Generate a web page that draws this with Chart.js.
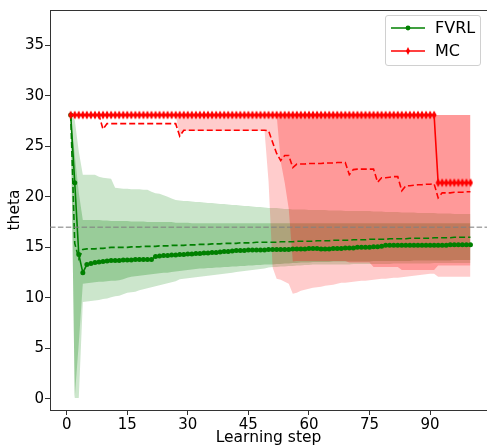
<!DOCTYPE html>
<html>
<head>
<meta charset="utf-8">
<script src="https://cdn.jsdelivr.net/npm/chart.js@4.4.1/dist/chart.umd.min.js"></script>
<style>
    html, body { margin: 0; padding: 0; background: #fff; }
    #wrap { position: relative; width: 487px; height: 446px; overflow: hidden; }
    #legend {
        position: absolute; left: 385px; top: 15px; width: 94px; height: 49px;
        border: 1px solid #d0d0d0; border-radius: 3px; background: rgba(255,255,255,0.8);
        font-family: 'DejaVu Sans'; font-size: 16px; color: #000;
    }
    .row { position: absolute; left: 0; width: 94px; height: 20px; }
    .row svg { position: absolute; left: 5px; top: 3px; }
    .row span { position: absolute; left: 49px; top: 0; line-height: 20px; white-space: nowrap; }
</style>
</head>
<body>
<div id="wrap">
    <canvas id="c" width="487" height="446"></canvas>
    <div id="legend">
        <div class="row" style="top:2px">
            <svg width="34" height="14"><line x1="0" y1="7" x2="34" y2="7" stroke="green" stroke-width="1.6"/><circle cx="17" cy="7" r="2.4" fill="green"/></svg>
            <span>FVRL</span>
        </div>
        <div class="row" style="top:25px">
            <svg width="34" height="14"><line x1="0" y1="7" x2="34" y2="7" stroke="red" stroke-width="1.6"/><polygon points="17,3 19,7 17,11 15,7" fill="red"/></svg>
            <span>MC</span>
        </div>
    </div>
</div>
<script>
// ---- data ----
const steps = [1,2,3,4,5,6,7,8,9,10,11,12,13,14,15,16,17,18,19,20,21,22,23,24,25,26,27,28,29,30,
    31,32,33,34,35,36,37,38,39,40,41,42,43,44,45,46,47,48,49,50,51,52,53,54,55,56,57,58,59,60,
    61,62,63,64,65,66,67,68,69,70,71,72,73,74,75,76,77,78,79,80,81,82,83,84,85,86,87,88,89,90,
    91,92,93,94,95,96,97,98,99,100];

const refTheta = 17;

// FVRL: median (solid), mean (dashed), inner band, outer band
const fvrlMedian = [28.1,21.4,14.3,12.5,13.3,13.4,13.5,13.55,13.6,13.65,
    13.7,13.7,13.7,13.75,13.75,13.75,13.8,13.8,13.8,13.8,
    13.8,14.1,14.15,14.2,14.2,14.25,14.25,14.3,14.3,14.35,
    14.35,14.4,14.4,14.45,14.45,14.5,14.5,14.55,14.6,14.6,
    14.65,14.7,14.7,14.7,14.75,14.75,14.75,14.75,14.75,14.8,
    14.8,14.8,14.8,14.8,14.8,14.85,14.85,14.85,14.85,14.9,
    14.9,14.9,14.85,14.85,14.85,14.9,14.9,14.9,14.95,14.95,
    14.95,15.0,15.0,15.0,15.0,15.05,15.05,15.1,15.2,15.2,
    15.2,15.2,15.2,15.2,15.2,15.2,15.2,15.2,15.2,15.2,
    15.2,15.2,15.2,15.2,15.25,15.25,15.25,15.25,15.25,15.25];

const fvrlMean = [28.1,15.4,13.9,14.8,14.85,14.85,14.85,14.9,14.9,14.95,
    15.0,15.0,15.0,15.0,15.0,15.05,15.05,15.05,15.1,15.1,
    15.1,15.1,15.15,15.15,15.15,15.2,15.2,15.2,15.2,15.25,
    15.25,15.25,15.3,15.3,15.3,15.35,15.35,15.35,15.4,15.4,
    15.4,15.4,15.45,15.45,15.45,15.45,15.5,15.5,15.5,15.5,
    15.5,15.5,15.55,15.55,15.55,15.55,15.6,15.6,15.6,15.6,
    15.6,15.65,15.65,15.65,15.65,15.7,15.7,15.7,15.7,15.7,
    15.75,15.75,15.75,15.75,15.8,15.8,15.8,15.8,15.8,15.85,
    15.85,15.85,15.85,15.85,15.9,15.9,15.9,15.9,15.9,15.9,
    15.95,15.95,15.95,15.95,15.95,16.0,16.0,16.0,16.0,16.0];

const fvrlHigh = [28.1,27.6,24.5,22.2,22.2,22.2,22.2,22.0,21.9,21.85,
    21.8,20.9,20.85,20.8,20.8,20.75,20.75,20.75,20.7,20.7,
    20.5,20.35,20.3,20.15,20.0,19.85,19.7,19.65,19.6,19.6,
    19.55,19.5,19.5,19.45,19.4,19.4,19.35,19.3,19.3,19.25,
    19.2,19.2,19.15,19.1,19.1,19.05,19.0,19.0,18.95,18.9,
    18.9,18.9,18.85,18.8,18.8,18.75,18.75,18.75,18.75,18.7,
    18.7,18.7,18.7,18.7,18.65,18.65,18.65,18.65,18.6,18.6,
    18.6,18.6,18.6,18.6,18.6,18.55,18.55,18.55,18.5,18.5,
    18.5,18.5,18.45,18.45,18.45,18.45,18.4,18.4,18.4,18.4,
    18.4,18.35,18.35,18.35,18.35,18.3,18.3,18.3,18.3,18.3];

const fvrlUpper = [28.1,24.2,20.4,17.7,17.7,17.7,17.7,17.7,17.65,17.65,
    17.6,17.6,17.6,17.6,17.6,17.55,17.55,17.55,17.55,17.5,
    17.5,17.5,17.5,17.5,17.5,17.5,17.45,17.45,17.45,17.45,
    17.4,17.4,17.4,17.4,17.4,17.4,17.4,17.4,17.4,17.4,
    17.4,17.4,17.4,17.4,17.4,17.4,17.4,17.4,17.4,17.4,
    17.4,17.4,17.4,17.4,17.4,17.4,17.4,17.4,17.4,17.4,
    17.4,17.4,17.4,17.4,17.4,17.4,17.4,17.4,17.4,17.4,
    17.4,17.4,17.4,17.4,17.4,17.4,17.4,17.4,17.4,17.4,
    17.4,17.4,17.4,17.4,17.4,17.4,17.4,17.4,17.4,17.4,
    17.4,17.4,17.4,17.4,17.4,17.4,17.4,17.4,17.4,17.4];

const fvrlLower = [28.1,0.1,5.5,11.4,11.45,11.5,11.55,11.6,11.6,11.65,
    11.7,11.7,11.75,11.85,12.0,12.1,12.15,12.2,12.25,12.3,
    12.35,12.4,12.45,12.5,12.5,12.55,12.6,12.65,12.7,12.75,
    12.8,12.85,12.9,12.9,12.95,12.95,13.0,13.0,13.05,13.05,
    13.1,13.1,13.15,13.15,13.2,13.2,13.25,13.25,13.3,13.3,
    13.3,13.35,13.35,13.4,13.4,13.45,13.45,13.5,13.5,13.5,
    13.55,13.55,13.55,13.55,13.55,13.6,13.6,13.6,13.6,13.6,
    13.6,13.6,13.6,13.6,13.6,13.65,13.65,13.65,13.65,13.65,
    13.65,13.65,13.65,13.65,13.65,13.7,13.7,13.7,13.7,13.7,
    13.7,13.7,13.7,13.7,13.7,13.75,13.75,13.75,13.75,13.75];

const fvrlLow = [28.1,0.1,0.1,9.6,9.65,9.7,9.75,9.8,9.9,9.95,
    10.05,10.15,10.2,10.35,10.5,10.55,10.6,10.75,10.85,10.95,
    11.05,11.15,11.25,11.35,11.45,11.55,11.65,11.85,11.9,11.95,
    12.0,12.05,12.1,12.15,12.2,12.25,12.3,12.35,12.4,12.45,
    12.5,12.55,12.6,12.65,12.7,12.75,12.8,12.85,12.9,13.0,
    13.05,13.05,13.1,13.1,13.15,13.15,13.2,13.2,13.25,13.25,
    13.3,13.3,13.3,13.3,13.3,13.3,13.3,13.3,13.3,13.3,
    13.35,13.35,13.35,13.35,13.35,13.35,13.35,13.35,13.35,13.35,
    13.4,13.4,13.4,13.4,13.4,13.4,13.4,13.4,13.4,13.4,
    13.45,13.45,13.45,13.45,13.45,13.45,13.45,13.45,13.45,13.45];

// MC: median (solid), mean (dashed), bands share the same top
const mcMedian = [28.1,28.1,28.1,28.1,28.1,28.1,28.1,28.1,28.1,28.1,
    28.1,28.1,28.1,28.1,28.1,28.1,28.1,28.1,28.1,28.1,
    28.1,28.1,28.1,28.1,28.1,28.1,28.1,28.1,28.1,28.1,
    28.1,28.1,28.1,28.1,28.1,28.1,28.1,28.1,28.1,28.1,
    28.1,28.1,28.1,28.1,28.1,28.1,28.1,28.1,28.1,28.1,
    28.1,28.1,28.1,28.1,28.1,28.1,28.1,28.1,28.1,28.1,
    28.1,28.1,28.1,28.1,28.1,28.1,28.1,28.1,28.1,28.1,
    28.1,28.1,28.1,28.1,28.1,28.1,28.1,28.1,28.1,28.1,
    28.1,28.1,28.1,28.1,28.1,28.1,28.1,28.1,28.1,28.1,
    28.1,21.4,21.4,21.4,21.4,21.4,21.4,21.4,21.4,21.4];

const mcMean = [28.1,28.1,28.1,28.1,28.1,28.1,28.1,28.1,26.7,27.25,
    27.25,27.25,27.25,27.25,27.25,27.25,27.25,27.25,27.25,27.25,
    27.25,27.25,27.25,27.25,27.25,27.25,27.25,26.0,26.6,26.6,
    26.6,26.6,26.6,26.6,26.6,26.6,26.6,26.6,26.6,26.6,
    26.6,26.6,26.6,26.6,26.6,26.6,26.6,26.6,26.6,26.55,
    25.4,24.3,23.6,24.1,24.1,22.9,23.25,23.25,23.25,23.3,
    23.3,23.3,23.3,23.35,23.35,23.35,23.4,23.4,23.4,22.2,
    22.7,22.75,22.75,22.75,22.75,22.75,21.45,21.9,21.9,21.95,
    22.0,22.0,20.6,21.1,21.1,21.15,21.2,21.2,21.25,21.25,
    21.3,19.9,20.4,20.4,20.4,20.45,20.45,20.45,20.5,20.5];

const mcTop = [28.1,28.1,28.1,28.1,28.1,28.1,28.1,28.1,28.1,28.1,
    28.1,28.1,28.1,28.1,28.1,28.1,28.1,28.1,28.1,28.1,
    28.1,28.1,28.1,28.1,28.1,28.1,28.1,28.1,28.1,28.1,
    28.1,28.1,28.1,28.1,28.1,28.1,28.1,28.1,28.1,28.1,
    28.1,28.1,28.1,28.1,28.1,28.1,28.1,28.1,28.1,28.1,
    28.1,28.1,28.1,28.1,28.1,28.1,28.1,28.1,28.1,28.1,
    28.1,28.1,28.1,28.1,28.1,28.1,28.1,28.1,28.1,28.1,
    28.1,28.1,28.1,28.1,28.1,28.1,28.1,28.1,28.1,28.1,
    28.1,28.1,28.1,28.1,28.1,28.1,28.1,28.1,28.1,28.1,
    28.1,28.1,28.1,28.1,28.1,28.1,28.1,28.1,28.1,28.1];

const mcLower = [28.1,28.1,28.1,28.1,28.1,28.1,28.1,28.1,28.1,28.1,
    28.1,28.1,28.1,28.1,28.1,28.1,28.1,28.1,28.1,28.1,
    28.1,28.1,28.1,28.1,28.1,28.1,28.1,28.1,28.1,28.1,
    28.1,28.1,28.1,28.1,28.1,28.1,28.1,28.1,28.1,28.1,
    28.1,28.1,28.1,28.1,28.1,28.1,28.1,28.1,28.1,28.1,
    28.1,28.1,23.5,21.4,18.8,13.6,13.65,13.65,13.65,13.65,
    13.65,13.65,13.65,13.65,13.65,13.65,13.65,13.65,13.65,13.5,
    13.5,13.5,13.5,13.5,13.5,13.05,13.05,13.05,13.05,13.05,
    13.05,13.05,12.75,12.75,12.75,12.75,12.75,12.75,12.75,12.75,
    12.75,13.2,13.2,13.2,13.2,13.2,13.2,13.2,13.2,13.2];

const mcLow = [28.1,28.1,28.1,28.1,28.1,28.1,28.1,28.1,28.1,28.1,
    28.1,28.1,28.1,28.1,28.1,28.1,28.1,28.1,28.1,28.1,
    28.1,28.1,28.1,28.1,28.1,28.1,28.1,26.0,26.55,26.55,
    26.55,26.55,26.55,26.55,26.55,26.55,26.55,26.55,26.55,26.55,
    26.55,26.55,26.55,26.55,26.55,26.55,26.55,26.55,26.55,21.5,
    13.0,11.9,11.8,11.6,11.4,10.4,10.5,10.7,10.8,10.9,
    11.0,11.05,11.1,11.2,11.25,11.3,11.4,11.5,11.5,11.55,
    11.6,11.65,11.7,11.7,11.75,11.8,11.85,11.9,11.9,11.95,
    12.0,12.0,12.05,12.1,12.15,12.2,12.25,12.3,12.35,12.4,
    12.4,12.1,12.1,12.1,12.1,12.1,12.1,12.1,12.1,12.1];

// ---- chart ----
const pts = arr => steps.map((s, i) => ({ x: s, y: arr[i] }));

// thin diamond marker for MC
const diamond = document.createElement('canvas');
diamond.width = 6; diamond.height = 10;
(() => {
    const g = diamond.getContext('2d');
    g.fillStyle = 'red';
    g.beginPath(); g.moveTo(3, 0.5); g.lineTo(5.5, 5); g.lineTo(3, 9.5); g.lineTo(0.5, 5); g.closePath(); g.fill();
})();

const band = (data, fillTo, color) => ({
    data: pts(data), borderColor: 'transparent', borderWidth: 0, pointRadius: 0,
    fill: fillTo === null ? false : { target: fillTo }, backgroundColor: color, tension: 0
});

const refLine = {
    id: 'refLine',
    afterDatasetsDraw(chart) {
        const { ctx, chartArea: a, scales } = chart;
        const y = scales.y.getPixelForValue(refTheta);
        ctx.save();
        ctx.beginPath();
        ctx.rect(a.left, a.top, a.right - a.left, a.bottom - a.top);
        ctx.clip();
        ctx.strokeStyle = 'rgba(128,128,128,0.7)';
        ctx.lineWidth = 1.5;
        ctx.setLineDash([5.5, 2.4]);
        ctx.beginPath(); ctx.moveTo(a.left, y); ctx.lineTo(a.right, y); ctx.stroke();
        ctx.restore();
    },
    afterDraw(chart) {
        const { ctx, chartArea: a } = chart;
        ctx.save();
        ctx.strokeStyle = '#333'; ctx.lineWidth = 1;
        ctx.beginPath(); ctx.moveTo(a.left, a.top + 0.5); ctx.lineTo(a.right, a.top + 0.5); ctx.stroke();
        ctx.restore();
    }
};

const tickFont = { family: 'DejaVu Sans', size: 15 };

new Chart(document.getElementById('c'), {
    type: 'line',
    data: {
        datasets: [
            { label: 'MC', data: pts(mcMedian), borderColor: 'red', borderWidth: 1.6, pointStyle: diamond, pointRadius: 3, tension: 0, fill: false },
            { label: 'MC mean', data: pts(mcMean), borderColor: 'red', borderWidth: 1.6, borderDash: [6, 3], pointRadius: 0, tension: 0, fill: false },
            { label: 'FVRL', data: pts(fvrlMedian), borderColor: 'green', backgroundColor: 'green', borderWidth: 1.6, pointRadius: 2.5, pointBorderWidth: 0, tension: 0, fill: false },
            { label: 'FVRL mean', data: pts(fvrlMean), borderColor: 'green', borderWidth: 1.6, borderDash: [6, 3], pointRadius: 0, tension: 0, fill: false },
            band(mcTop, 5, 'rgba(255,0,0,0.25)'),
            band(mcLower, null, 'transparent'),
            band(mcTop, 7, 'rgba(255,0,0,0.2)'),
            band(mcLow, null, 'transparent'),
            band(fvrlUpper, 9, 'rgba(0,128,0,0.25)'),
            band(fvrlLower, null, 'transparent'),
            band(fvrlHigh, 11, 'rgba(0,128,0,0.2)'),
            band(fvrlLow, null, 'transparent')
        ]
    },
    options: {
        responsive: false, animation: false, devicePixelRatio: 1,
        layout: { autoPadding: false, padding: { top: 7, right: 0, left: 0, bottom: 0 } },
        plugins: { legend: { display: false }, tooltip: { enabled: false }, filler: { drawTime: 'beforeDatasetsDraw' } },
        scales: {
            x: {
                type: 'linear', min: -4.13, max: 104.1,
                afterFit: s => { s.height = 36; },
                ticks: { stepSize: 15, includeBounds: false, font: tickFont, color: '#000', padding: 1, maxRotation: 0 },
                grid: { drawOnChartArea: false, tickLength: 5, color: '#333' },
                border: { color: '#333' },
                title: { display: true, text: 'Learning step', font: { family: 'DejaVu Sans', size: 15.5, lineHeight: 1 }, color: '#000', padding: { top: 0, bottom: 0 } }
            },
            y: {
                min: -1.1, max: 38.5,
                afterFit: s => { s.width = 50; },
                ticks: { stepSize: 5, includeBounds: false, font: tickFont, color: '#000', padding: 1 },
                grid: { drawOnChartArea: false, tickLength: 5, color: '#333' },
                border: { color: '#333' },
                title: { display: true, text: 'theta', font: { family: 'DejaVu Sans', size: 15.5, lineHeight: 1 }, color: '#000', padding: { top: 7, bottom: 0 } }
            }
        }
    },
    plugins: [refLine]
});
</script>
</body>
</html>
